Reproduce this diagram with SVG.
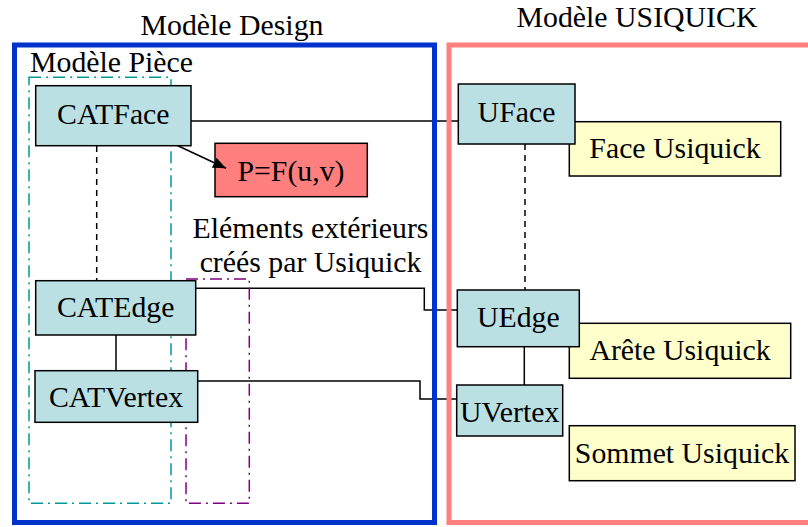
<svg xmlns="http://www.w3.org/2000/svg" width="808" height="527" viewBox="0 0 808 527">
<style>
text{font-family:"Liberation Serif","Times New Roman",serif;font-size:29.8px;fill:#000}
.mid{text-anchor:middle}
.cyan{fill:#BBE0E3;stroke:#000;stroke-width:1.5}
.yel{fill:#FFFFCC;stroke:#000;stroke-width:1.5}
.red{fill:#FF7F7F;stroke:#000;stroke-width:1.5}
.ln{fill:none;stroke:#000;stroke-width:1.5}
.dash{fill:none;stroke:#000;stroke-width:1.5;stroke-dasharray:6,5}
</style>
<defs>
<marker id="arr" markerWidth="13" markerHeight="11" refX="13" refY="5.5" orient="auto" markerUnits="userSpaceOnUse" viewBox="0 0 13 11">
<path d="M0,0 L13,5.5 L0,11 z" fill="#000"/>
</marker>
</defs>
<rect width="808" height="527" fill="#fff"/>
<g id="PFuv">
<rect class="red" x="215" y="143.3" width="152.3" height="53.4"/>
<text x="291" y="180.5" class="mid">P=F(u,v)</text>
</g>
<g id="connectors">
<line class="ln" x1="191" y1="121" x2="458" y2="121"/>
<line class="ln" x1="172" y1="143" x2="226" y2="168.3" marker-end="url(#arr)" stroke-width="2"/>
<line class="dash" x1="96.7" y1="146" x2="96.7" y2="281"/>
<polyline class="ln" points="195.7,288.3 424.3,288.3 424.3,310 457.3,310"/>
<line class="ln" x1="116" y1="335" x2="116" y2="370.7"/>
<polyline class="ln" points="197.7,381 420,381 420,399 456.7,399"/>
<line class="dash" x1="525" y1="144" x2="525" y2="290"/>
<line class="ln" x1="524.3" y1="346.7" x2="524.3" y2="385"/>
</g>
<g id="frames">
<rect x="14.5" y="45" width="420" height="477.5" fill="none" stroke="#0033CC" stroke-width="5"/>
<rect x="449" y="45" width="370" height="477.5" fill="none" stroke="#FF8080" stroke-width="5"/>
<rect x="29" y="77.3" width="142" height="426" fill="none" stroke="#009999" stroke-width="1.5" stroke-dasharray="12,5,2,5"/>
<rect x="186" y="279" width="63.3" height="224.3" fill="none" stroke="#800080" stroke-width="1.5" stroke-dasharray="12,5,2,5"/>
</g>
<g id="labels">
<text x="232" y="35" class="mid">Modèle Design</text>
<text x="637" y="27" class="mid">Modèle USIQUICK</text>
<text x="30" y="71.5">Modèle Pièce</text>
<text x="310.5" y="238.3" class="mid">Eléments extérieurs</text>
<text x="310.5" y="271.7" class="mid">créés par Usiquick</text>
</g>
<g id="CATFace">
<rect class="cyan" x="35.7" y="85.7" width="155.3" height="60"/>
<text x="113.3" y="124" class="mid">CATFace</text>
</g>
<g id="CATEdge">
<rect class="cyan" x="35.7" y="280.7" width="160" height="54.3"/>
<text x="115.7" y="317" class="mid">CATEdge</text>
</g>
<g id="CATVertex">
<rect class="cyan" x="35" y="370.7" width="162.7" height="51.6"/>
<text x="116" y="407.3" class="mid">CATVertex</text>
</g>
<g id="FaceUsiquick">
<rect class="yel" x="569.3" y="121.7" width="211.4" height="54.3"/>
<text x="675" y="158.3" class="mid">Face Usiquick</text>
</g>
<g id="UFace">
<rect class="cyan" x="458.3" y="84" width="116.7" height="60"/>
<text x="516.5" y="121.7" class="mid">UFace</text>
</g>
<g id="AreteUsiquick">
<rect class="yel" x="569.3" y="323.3" width="221.4" height="55"/>
<text x="680" y="360" class="mid">Arête Usiquick</text>
</g>
<g id="UEdge">
<rect class="cyan" x="457.3" y="290" width="122" height="56.7"/>
<text x="518.3" y="327.3" class="mid">UEdge</text>
</g>
<g id="UVertex">
<rect class="cyan" x="456.7" y="385" width="106" height="51"/>
<text x="509.7" y="421.7" class="mid">UVertex</text>
</g>
<g id="SommetUsiquick">
<rect class="yel" x="569.3" y="425.7" width="225.7" height="55"/>
<text x="682" y="463.3" class="mid">Sommet Usiquick</text>
</g>
</svg>
